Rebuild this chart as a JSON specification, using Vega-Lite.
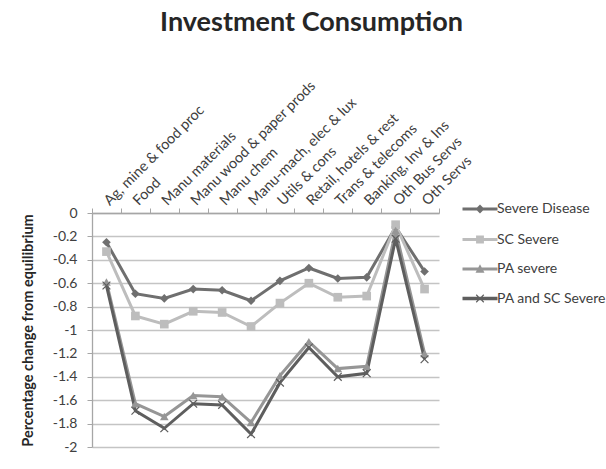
{
  "$schema": "https://vega.github.io/schema/vega-lite/v6.json",
  "autosize": {"type": "none"},
  "width": 347,
  "height": 234,
  "padding": {"left": 92, "top": 213, "right": 167, "bottom": 22},
  "background": "white",
  "title": {
    "text": "Investment Consumption",
    "font": "Lato",
    "fontSize": 27,
    "fontWeight": "bold",
    "color": "#262626",
    "anchor": "middle",
    "frame": "group",
    "dx": 46,
    "offset": 40
  },
  "config": {
    "view": {"stroke": null},
    "font": "Lato",
    "axis": {"labelFont": "Lato", "titleFont": "Lato", "labelColor": "#404040", "titleColor": "#262626"}
  },
  "data": {
    "values": [
      {"sector": "Ag, mine & food proc", "series": "Severe Disease", "value": -0.25},
      {"sector": "Food", "series": "Severe Disease", "value": -0.69},
      {"sector": "Manu materials", "series": "Severe Disease", "value": -0.73},
      {"sector": "Manu wood & paper prods", "series": "Severe Disease", "value": -0.65},
      {"sector": "Manu chem", "series": "Severe Disease", "value": -0.66},
      {"sector": "Manu-mach, elec & lux", "series": "Severe Disease", "value": -0.75},
      {"sector": "Utils & cons", "series": "Severe Disease", "value": -0.58},
      {"sector": "Retail, hotels & rest", "series": "Severe Disease", "value": -0.47},
      {"sector": "Trans & telecoms", "series": "Severe Disease", "value": -0.56},
      {"sector": "Banking, Inv & Ins", "series": "Severe Disease", "value": -0.55},
      {"sector": "Oth Bus Servs", "series": "Severe Disease", "value": -0.12},
      {"sector": "Oth Servs", "series": "Severe Disease", "value": -0.5},
      {"sector": "Ag, mine & food proc", "series": "SC Severe", "value": -0.33},
      {"sector": "Food", "series": "SC Severe", "value": -0.88},
      {"sector": "Manu materials", "series": "SC Severe", "value": -0.95},
      {"sector": "Manu wood & paper prods", "series": "SC Severe", "value": -0.84},
      {"sector": "Manu chem", "series": "SC Severe", "value": -0.85},
      {"sector": "Manu-mach, elec & lux", "series": "SC Severe", "value": -0.97},
      {"sector": "Utils & cons", "series": "SC Severe", "value": -0.77},
      {"sector": "Retail, hotels & rest", "series": "SC Severe", "value": -0.6},
      {"sector": "Trans & telecoms", "series": "SC Severe", "value": -0.72},
      {"sector": "Banking, Inv & Ins", "series": "SC Severe", "value": -0.71},
      {"sector": "Oth Bus Servs", "series": "SC Severe", "value": -0.1},
      {"sector": "Oth Servs", "series": "SC Severe", "value": -0.65},
      {"sector": "Ag, mine & food proc", "series": "PA severe", "value": -0.59},
      {"sector": "Food", "series": "PA severe", "value": -1.63},
      {"sector": "Manu materials", "series": "PA severe", "value": -1.74},
      {"sector": "Manu wood & paper prods", "series": "PA severe", "value": -1.56},
      {"sector": "Manu chem", "series": "PA severe", "value": -1.57},
      {"sector": "Manu-mach, elec & lux", "series": "PA severe", "value": -1.79},
      {"sector": "Utils & cons", "series": "PA severe", "value": -1.39},
      {"sector": "Retail, hotels & rest", "series": "PA severe", "value": -1.1},
      {"sector": "Trans & telecoms", "series": "PA severe", "value": -1.33},
      {"sector": "Banking, Inv & Ins", "series": "PA severe", "value": -1.31},
      {"sector": "Oth Bus Servs", "series": "PA severe", "value": -0.15},
      {"sector": "Oth Servs", "series": "PA severe", "value": -1.2},
      {"sector": "Ag, mine & food proc", "series": "PA and SC Severe", "value": -0.62},
      {"sector": "Food", "series": "PA and SC Severe", "value": -1.69},
      {"sector": "Manu materials", "series": "PA and SC Severe", "value": -1.84},
      {"sector": "Manu wood & paper prods", "series": "PA and SC Severe", "value": -1.63},
      {"sector": "Manu chem", "series": "PA and SC Severe", "value": -1.64},
      {"sector": "Manu-mach, elec & lux", "series": "PA and SC Severe", "value": -1.89},
      {"sector": "Utils & cons", "series": "PA and SC Severe", "value": -1.45},
      {"sector": "Retail, hotels & rest", "series": "PA and SC Severe", "value": -1.15},
      {"sector": "Trans & telecoms", "series": "PA and SC Severe", "value": -1.4},
      {"sector": "Banking, Inv & Ins", "series": "PA and SC Severe", "value": -1.37},
      {"sector": "Oth Bus Servs", "series": "PA and SC Severe", "value": -0.22},
      {"sector": "Oth Servs", "series": "PA and SC Severe", "value": -1.25}
    ]
  },
  "encoding": {
    "x": {
      "field": "sector",
      "type": "nominal",
      "sort": null,
      "scale": {"type": "band", "paddingInner": 0, "paddingOuter": 0},
      "axis": {
        "orient": "top",
        "title": null,
        "labelAngle": -45,
        "labelAlign": "left",
        "labelBaseline": "middle",
        "labelFontSize": 14.5,
        "labelPadding": 5,
        "tickBand": "extent",
        "tickSize": 5,
        "tickColor": "#a6a6a6",
        "domainColor": "#a6a6a6",
        "domainWidth": 1.3,
        "grid": false
      }
    },
    "y": {
      "field": "value",
      "type": "quantitative",
      "scale": {"domain": [-2, 0], "nice": false, "zero": false},
      "axis": {
        "title": "Percentage change from equilibrium",
        "titleFontSize": 14.5,
        "titleFontWeight": "bold",
        "titlePadding": 17,
        "values": [0, -0.2, -0.4, -0.6, -0.8, -1, -1.2, -1.4, -1.6, -1.8, -2],
        "labelExpr": "replace(format(datum.value, '.1~f'), '\u2212', '-')",
        "labelFontSize": 14,
        "labelPadding": 10,
        "tickSize": 5,
        "tickColor": "#a6a6a6",
        "domainColor": "#a6a6a6",
        "domainWidth": 1.3,
        "grid": true,
        "gridColor": "#c4c4c4",
        "gridWidth": 1.3
      }
    }
  },
  "layer": [
    {
      "mark": {"type": "line", "strokeWidth": 3},
      "encoding": {
        "color": {
          "field": "series",
          "type": "nominal",
          "scale": {
            "domain": ["Severe Disease", "SC Severe", "PA severe", "PA and SC Severe"],
            "range": ["#6f6f6f", "#bdbdbd", "#969696", "#5e5e5e"]
          },
          "legend": null
        }
      }
    },
    {
      "mark": {"type": "point", "filled": true, "opacity": 1, "size": 75},
      "encoding": {
        "color": {
          "field": "series",
          "type": "nominal",
          "scale": {
            "domain": ["Severe Disease", "SC Severe", "PA severe", "PA and SC Severe"],
            "range": ["#6f6f6f", "#bdbdbd", "#969696", "#5e5e5e"]
          },
          "legend": null
        },
        "shape": {
          "field": "series",
          "type": "nominal",
          "scale": {
            "domain": ["Severe Disease", "SC Severe", "PA severe", "PA and SC Severe"],
            "range": [
              "diamond",
              "square",
              "triangle-up",
              "M-1,-0.8L-0.8,-1L0,-0.2L0.8,-1L1,-0.8L0.2,0L1,0.8L0.8,1L0,0.2L-0.8,1L-1,0.8L-0.2,0Z"
            ]
          },
          "legend": null
        }
      }
    },
    {
      "mark": {"type": "point", "filled": true, "opacity": 0},
      "encoding": {
        "color": {
          "field": "series",
          "type": "nominal",
          "scale": {
            "domain": ["Severe Disease", "SC Severe", "PA severe", "PA and SC Severe"],
            "range": ["#6f6f6f", "#bdbdbd", "#969696", "#5e5e5e"]
          },
          "legend": {
            "title": null,
            "orient": "none",
            "legendX": 373,
            "legendY": -19,
            "padding": 0,
            "symbolSize": 784,
            "symbolOpacity": 1,
            "rowPadding": 7.5,
            "labelOffset": 2,
            "labelFont": "Lato",
            "labelFontSize": 14,
            "labelColor": "#404040"
          }
        },
        "shape": {
          "field": "series",
          "type": "nominal",
          "scale": {
            "domain": ["Severe Disease", "SC Severe", "PA severe", "PA and SC Severe"],
            "range": [
              "M-1.25,-0.1H1.25V0.1H-1.25ZM0,-0.32L0.32,0L0,0.32L-0.32,0Z",
              "M-1.25,-0.1H1.25V0.1H-1.25ZM-0.28,-0.28H0.28V0.28H-0.28Z",
              "M-1.25,-0.1H1.25V0.1H-1.25ZM0,-0.34L0.32,0.26L-0.32,0.26Z",
              "M-1.25,-0.12H1.25V0.12H-1.25ZM-0.3,-0.24L-0.24,-0.3L0,-0.06L0.24,-0.3L0.3,-0.24L0.06,0L0.3,0.24L0.24,0.3L0,0.06L-0.24,0.3L-0.3,0.24L-0.06,0Z"
            ]
          },
          "legend": {
            "title": null,
            "orient": "none",
            "legendX": 373,
            "legendY": -19,
            "padding": 0,
            "symbolSize": 784,
            "symbolOpacity": 1,
            "rowPadding": 7.5,
            "labelOffset": 2,
            "labelFont": "Lato",
            "labelFontSize": 14,
            "labelColor": "#404040"
          }
        }
      }
    }
  ],
  "resolve": {"scale": {"color": "independent", "shape": "independent"}}
}
